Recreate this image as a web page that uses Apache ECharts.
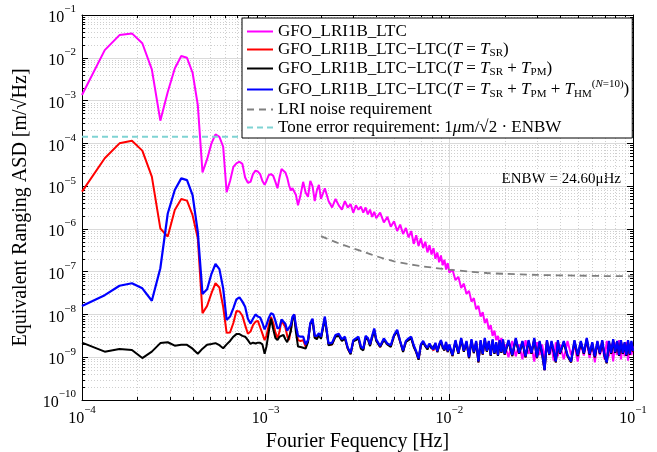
<!DOCTYPE html>
<html>
<head>
<meta charset="utf-8">
<script src="https://cdn.jsdelivr.net/npm/echarts@6/dist/echarts.min.js"></script>
<style>
  html, body { margin: 0; padding: 0; background: #fff; }
  #chart { width: 657px; height: 452px; }
</style>
</head>
<body>
<div id="chart"></div>
<script>
const FONT = '"Liberation Serif", "DejaVu Serif", serif';

// frequency grid in mHz (low part and high part)
const freqLowMHz = [0.1, 0.133, 0.16, 0.187, 0.213, 0.24, 0.267, 0.293, 0.32, 0.347,
  0.373, 0.4, 0.427, 0.453, 0.48, 0.507, 0.533, 0.56, 0.587, 0.613,
  0.64, 0.667, 0.693, 0.72, 0.747, 0.773, 0.8, 0.827, 0.853, 0.88,
  0.907, 0.933, 0.96, 0.987,
  1.01, 1.04, 1.07, 1.1, 1.13, 1.16, 1.19, 1.22, 1.25, 1.28, 1.31, 1.34, 1.37, 1.4, 1.43, 1.46, 1.5, 1.55];
const freqHighMHz = [1.6, 1.65, 1.7, 1.75, 1.8, 1.85, 1.9, 1.95,
  2.0, 2.1, 2.2, 2.3, 2.4, 2.5, 2.6, 2.7, 2.8, 2.9, 3.0, 3.1, 3.2, 3.3, 3.4, 3.5, 3.6, 3.7, 3.8, 3.9,
  4.0, 4.2, 4.4, 4.6, 4.8, 5.0, 5.2, 5.4, 5.6, 5.8, 6.0, 6.2, 6.4, 6.6, 6.8, 7.0, 7.2, 7.4, 7.6, 7.8,
  8.0, 8.2, 8.4, 8.6, 8.8, 9.0, 9.2, 9.4, 9.6, 9.8,
  10, 10.4, 10.8, 11.2, 11.6, 12, 12.4, 12.8, 13.2, 13.6, 14, 14.4, 14.8, 15.2, 15.6, 16, 16.4, 16.8,
  17.2, 17.6, 18, 18.4, 18.8, 19.2, 19.6,
  20, 21, 22, 23, 24, 25, 26, 27, 28, 29, 30, 31, 32, 33, 34, 35, 36, 37, 38, 39,
  40, 42, 44, 46, 48, 50, 52, 54, 56, 58, 60, 62, 64, 66, 68, 70, 72, 74, 76, 78, 80,
  82, 84, 86, 88, 90, 92, 94, 96, 98, 100];

// log10 of ASD [m/sqrt(Hz)]
const ltcLow = [-2.87, -1.82, -1.47, -1.43, -1.66, -2.27, -3.47, -2.8, -2.25, -1.96,
  -2.0, -2.35, -3.1, -4.68, -4.37, -4.0, -3.79, -3.85, -4.08, -5.14,
  -4.88, -4.55, -4.47, -4.43, -4.48, -4.8, -4.92, -4.9, -4.72, -4.64,
  -4.66, -4.72, -4.88, -4.97,
  -4.88, -4.74, -4.72, -4.76, -4.9, -5.05, -4.8, -4.6, -4.56, -4.68, -4.8, -4.98, -5.1, -5.05, -5.03, -5.2, -5.45, -5.2];
const ltcHigh = [-4.90, -5.15, -5.25, -4.88, -5.0, -5.35, -5.1, -4.97,
  -5.3, -5.05, -5.35, -5.5, -5.3, -5.45, -5.55, -5.35, -5.5, -5.42, -5.62, -5.45, -5.55, -5.48, -5.62, -5.5, -5.66, -5.55, -5.72, -5.6,
  -5.75, -5.62, -5.85, -5.72, -5.95, -5.82, -6.05, -5.9, -6.12, -5.98, -6.2, -6.05, -6.35, -6.15, -6.4, -6.22, -6.45, -6.3, -6.55, -6.38,
  -6.6, -6.45, -6.7, -6.55, -6.78, -6.62, -6.85, -6.72, -6.95, -6.8,
  -7.02, -6.95, -7.2, -7.12, -7.38, -7.28, -7.52, -7.45, -7.7, -7.62, -7.88, -7.8, -8.05, -7.95, -8.2, -8.1, -8.35, -8.25,
  -8.5, -8.38, -8.6, -8.5, -8.7, -8.55, -8.8,
  -8.7, -9.0, -8.62, -8.98, -8.7, -9.05, -8.6, -8.92, -8.75, -9.1, -8.65, -8.95, -8.7, -9.02, -8.6, -8.95, -8.72, -9.08, -8.65, -8.98,
  -8.7, -9.05, -8.62, -8.95, -8.72, -9.1, -8.66, -8.96, -8.6, -9.02, -8.7, -9.12, -8.64, -8.95, -8.72, -9.05, -8.62, -8.98, -8.7, -9.1, -8.66,
  -8.95, -8.6, -9.05, -8.7, -8.98, -8.64, -9.08, -8.7, -8.95, -8.75];

const srLow = [-5.13, -4.35, -4.0, -3.94, -4.17, -4.78, -5.99, -6.18, -5.56, -5.30,
  -5.34, -5.68, -6.22, -7.97, -7.80, -7.5, -7.27, -7.37, -7.82, -8.43,
  -8.42, -8.2, -7.92, -7.93, -8.03, -8.25, -8.45, -8.4, -8.25, -8.17,
  -8.15, -8.3, -8.45, -8.6,
  -8.5, -8.25, -8.06, -8.2, -8.42, -8.56, -8.4, -8.14, -8.12, -8.3, -8.5, -8.6, -8.35, -8.1, -8.0, -8.3, -8.6, -8.62];
const srHigh = [-8.6, -8.75, -8.62, -8.22, -8.12, -8.52, -8.55, -8.46,
  -8.55, -8.08, -8.7, -8.7, -8.5, -8.48, -8.6, -8.55, -8.8, -8.92, -8.62, -8.58, -8.55, -8.78, -8.82, -8.55, -8.56, -8.72, -8.52, -8.36,
  -8.6, -8.76, -8.58, -8.7, -8.74, -8.5, -8.38, -8.64, -8.86, -8.64, -8.58, -8.55, -8.74, -8.88, -9.05, -8.72, -8.64, -8.74, -8.8, -8.7,
  -8.78, -8.84, -8.68, -8.88, -8.72, -8.62, -8.76, -8.84, -8.66, -8.88,
  -8.72, -8.97, -8.62, -8.92, -8.57, -8.87, -8.64, -9.02, -8.6, -8.9, -8.64, -9.12, -8.62, -8.94, -8.57, -8.87, -8.64, -8.97,
  -8.6, -8.92, -8.67, -8.97, -8.62, -8.9, -8.6,
  -8.94, -8.62, -8.97, -8.57, -8.92, -8.64, -9.0, -8.62, -8.92, -8.57, -9.02, -8.64, -8.92, -9.3, -8.62, -8.94, -8.64, -8.87, -9.12, -8.62,
  -8.92, -8.64, -8.97, -9.12, -8.62, -8.97, -8.64, -8.92, -8.57, -8.94, -8.67, -9.0, -8.64, -8.92, -8.62, -8.97, -9.14, -8.64, -8.92, -8.6, -8.9,
  -8.64, -8.97, -8.62, -8.92, -8.67, -8.97, -8.62, -8.94, -8.64, -8.87];

const pmLow = [-8.66, -8.87, -8.81, -8.83, -9.02, -8.87, -8.67, -8.65, -8.73, -8.71,
  -8.71, -8.8, -8.92, -8.8, -8.71, -8.69, -8.67, -8.72, -8.79, -8.7,
  -8.62, -8.52, -8.46, -8.46, -8.5, -8.52, -8.6, -8.69, -8.66, -8.68,
  -8.66, -8.66, -8.7, -8.92,
  -8.75, -8.4, -8.1, -8.35, -8.55, -8.6, -8.52, -8.48, -8.48, -8.58, -8.65, -8.66, -8.4, -8.1, -8.02, -8.4, -8.75, -8.76];
const pmHigh = [-8.78, -8.8, -8.65, -8.22, -8.15, -8.55, -8.58, -8.48,
  -8.57, -8.1, -8.72, -8.7, -8.52, -8.5, -8.62, -8.56, -8.8, -8.93, -8.63, -8.6, -8.56, -8.8, -8.84, -8.56, -8.58, -8.74, -8.54, -8.38,
  -8.62, -8.76, -8.6, -8.7, -8.76, -8.5, -8.4, -8.64, -8.88, -8.64, -8.6, -8.55, -8.76, -8.88, -9.06, -8.72, -8.66, -8.74, -8.82, -8.7,
  -8.8, -8.84, -8.7, -8.88, -8.74, -8.62, -8.78, -8.84, -8.68, -8.88,
  -8.74, -8.97, -8.64, -8.92, -8.59, -8.87, -8.66, -9.02, -8.62, -8.9, -8.66, -9.12, -8.64, -8.94, -8.59, -8.87, -8.66, -8.97,
  -8.62, -8.92, -8.69, -8.97, -8.64, -8.9, -8.62,
  -8.94, -8.64, -8.97, -8.59, -8.92, -8.66, -9.0, -8.64, -8.92, -8.59, -9.02, -8.66, -8.92, -9.3, -8.64, -8.94, -8.66, -8.87, -9.12, -8.64,
  -8.92, -8.66, -8.97, -9.12, -8.64, -8.97, -8.66, -8.92, -8.59, -8.94, -8.69, -9.0, -8.66, -8.92, -8.64, -8.97, -9.14, -8.66, -8.92, -8.62, -8.9,
  -8.66, -8.97, -8.64, -8.92, -8.69, -8.97, -8.64, -8.94, -8.66, -8.87];

const hmLow = [-7.80, -7.55, -7.33, -7.27, -7.39, -7.68, -6.92, -5.64, -5.09, -4.82,
  -4.86, -5.21, -6.07, -7.52, -7.41, -7.05, -6.82, -6.94, -7.39, -8.13,
  -8.05, -7.85, -7.65, -7.60, -7.70, -7.82, -8.1, -8.21, -8.1, -8.0,
  -8.05, -8.07, -8.2, -8.35,
  -8.25, -8.08, -7.97, -8.0, -8.15, -8.33, -8.3, -8.12, -8.09, -8.22, -8.38, -8.4, -8.25, -8.05, -8.0, -8.25, -8.5, -8.52];
const hmHigh = [-8.52, -8.7, -8.6, -8.2, -8.1, -8.5, -8.5, -8.44,
  -8.52, -8.05, -8.68, -8.66, -8.48, -8.45, -8.58, -8.52, -8.78, -8.9, -8.6, -8.56, -8.52, -8.75, -8.8, -8.5, -8.55, -8.7, -8.5, -8.33,
  -8.58, -8.74, -8.56, -8.68, -8.72, -8.48, -8.36, -8.62, -8.84, -8.62, -8.56, -8.52, -8.72, -8.86, -9.03, -8.7, -8.62, -8.72, -8.78, -8.68,
  -8.76, -8.82, -8.66, -8.86, -8.7, -8.6, -8.74, -8.82, -8.64, -8.86,
  -8.7, -8.95, -8.6, -8.9, -8.55, -8.85, -8.62, -9.0, -8.58, -8.88, -8.62, -9.1, -8.6, -8.92, -8.55, -8.85, -8.62, -8.95,
  -8.58, -8.9, -8.65, -8.95, -8.6, -8.88, -8.58,
  -8.92, -8.6, -8.95, -8.55, -8.9, -8.62, -8.98, -8.6, -8.9, -8.55, -9.0, -8.62, -8.9, -9.3, -8.6, -8.92, -8.62, -8.85, -9.1, -8.6,
  -8.9, -8.62, -8.95, -9.1, -8.6, -8.95, -8.62, -8.9, -8.55, -8.92, -8.65, -8.98, -8.62, -8.9, -8.6, -8.95, -9.12, -8.62, -8.9, -8.58, -8.88,
  -8.62, -8.95, -8.6, -8.9, -8.65, -8.95, -8.6, -8.92, -8.62, -8.85];

// LRI noise requirement [Hz], [m/sqrt(Hz)]
const lriFreq = [2.0e-3, 2.25e-3, 2.5e-3, 3.0e-3, 3.5e-3, 4.0e-3, 5.0e-3, 6.0e-3, 7.0e-3, 8.0e-3,
  1.0e-2, 1.3e-2, 1.6e-2, 2.0e-2, 3.0e-2, 5.0e-2, 7.0e-2, 1.0e-1];
const lriAsd = [6.8e-7, 5.5e-7, 4.6e-7, 3.5e-7, 2.8e-7, 2.3e-7, 1.75e-7, 1.5e-7, 1.35e-7, 1.25e-7,
  1.12e-7, 1.0e-7, 9.3e-8, 8.9e-8, 8.4e-8, 8.1e-8, 7.9e-8, 7.8e-8];

// tone error requirement
const toneFreq = [1e-4, 1e-1];
const toneAsd = [1.426e-4, 1.426e-4];

// minor grid positions
const xDecades = [1e-4, 1e-3, 1e-2];
const yDecades = [1e-10, 1e-9, 1e-8, 1e-7, 1e-6, 1e-5, 1e-4, 1e-3, 1e-2];
const minorMult = [2, 3, 4, 5, 6, 7, 8, 9];

const names = [
  'GFO_LRI1B_LTC',
  'GFO_LRI1B_LTC−LTC(T = T_SR)',
  'GFO_LRI1B_LTC−LTC(T = T_SR + T_PM)',
  'GFO_LRI1B_LTC−LTC(T = T_SR + T_PM + T_HM)',
  'LRI noise requirement',
  'Tone error requirement'
];
const legendText = {};
legendText[names[0]] = '{t|GFO_LRI1B_LTC}';
legendText[names[1]] = '{t|GFO_LRI1B_LTC−LTC(}{i|T}{t| = }{i|T}{s|SR}{t|)}';
legendText[names[2]] = '{t|GFO_LRI1B_LTC−LTC(}{i|T}{t| = }{i|T}{s|SR}{t| + }{i|T}{s|PM}{t|)}';
legendText[names[3]] = '{tt|GFO_LRI1B_LTC−LTC(}{i|T}{t| = }{i|T}{s|SR}{t| + }{i|T}{s|PM}{t| + }{i|T}{s|HM}{u|(}{ui|N}{u|=10)}{t|)}';
legendText[names[4]] = '{t|LRI noise requirement}';
legendText[names[5]] = '{t|Tone error requirement: 1}{i|μ}{t|m/√2 · ENBW}';

function toPairs(fLow, fHigh, vLow, vHigh) {
  const f = fLow.concat(fHigh);
  const v = vLow.concat(vHigh);
  return f.map((x, i) => [x * 1e-3, Math.pow(10, v[i])]);
}

const minorGrid = [];
xDecades.forEach(d => minorMult.forEach(m => minorGrid.push([d * m, 1e-5, 0])));
yDecades.forEach(d => minorMult.forEach(m => minorGrid.push([1e-3, d * m, 1])));

function renderMinor(params, api) {
  const cs = params.coordSys;
  const dot = { stroke: '#cfcfcf', lineWidth: 1, lineDash: [1, 2] };
  const tk = { stroke: '#000', lineWidth: 1 };
  if (api.value(2) === 0) {
    const x = Math.round(api.coord([api.value(0), 1e-5])[0]) + 0.5;
    const b = cs.y + cs.height;
    return { type: 'group', children: [
      { type: 'line', shape: { x1: x, y1: cs.y, x2: x, y2: b }, style: dot },
      { type: 'line', shape: { x1: x, y1: b, x2: x, y2: b - 3 }, style: tk },
      { type: 'line', shape: { x1: x, y1: cs.y, x2: x, y2: cs.y + 3 }, style: tk }
    ] };
  }
  const y = Math.round(api.coord([1e-3, api.value(1)])[1]) + 0.5;
  const r = cs.x + cs.width;
  return { type: 'group', children: [
    { type: 'line', shape: { x1: cs.x, y1: y, x2: r, y2: y }, style: dot },
    { type: 'line', shape: { x1: cs.x, y1: y, x2: cs.x + 3, y2: y }, style: tk },
    { type: 'line', shape: { x1: r, y1: y, x2: r - 3, y2: y }, style: tk }
  ] };
}

function powLabel(v) {
  const e = Math.round(Math.log10(v));
  return '{b|10}{e|' + (e < 0 ? '−' + (-e) : e) + '}';
}
const powRich = {
  b: { fontFamily: FONT, fontSize: 16, color: '#000', lineHeight: 22, verticalAlign: 'bottom' },
  e: { fontFamily: FONT, fontSize: 11, color: '#000', lineHeight: 12, verticalAlign: 'top' }
};

const axisCommon = {
  type: 'log',
  logBase: 10,
  axisLine: { show: true, lineStyle: { color: '#000', width: 1 } },
  axisTick: { show: true, inside: true, length: 6, lineStyle: { color: '#000' } }
};

const chart = echarts.init(document.getElementById('chart'), null, { renderer: 'canvas' });
chart.setOption({
  animation: false,
  backgroundColor: '#fff',
  grid: { left: 82, right: 24, top: 15, bottom: 52, containLabel: false, outerBoundsMode: 'none' },
  xAxis: [
    Object.assign({}, axisCommon, {
      min: 1e-4, max: 1e-1, splitNumber: 3, position: 'bottom',
      name: 'Fourier Fequency [Hz]', nameLocation: 'middle', nameGap: 28,
      nameTextStyle: { fontFamily: FONT, fontSize: 20, color: '#000' },
      axisLabel: { formatter: powLabel, rich: powRich, margin: 5 },
      splitLine: { show: true, lineStyle: { color: '#dadada', width: 1 } }
    }),
    Object.assign({}, axisCommon, {
      min: 1e-4, max: 1e-1, splitNumber: 3, position: 'top',
      axisLabel: { show: false }, splitLine: { show: false }
    })
  ],
  yAxis: [
    Object.assign({}, axisCommon, {
      min: 1e-10, max: 1e-1, splitNumber: 9, position: 'left',
      name: 'Equivalent Ranging ASD [m/√Hz]', nameLocation: 'middle', nameGap: 51, nameRotate: 90,
      nameTextStyle: { fontFamily: FONT, fontSize: 20, color: '#000' },
      axisLabel: { formatter: powLabel, rich: powRich, margin: 6 },
      splitLine: { show: true, lineStyle: { color: '#dadada', width: 1 } }
    }),
    Object.assign({}, axisCommon, {
      min: 1e-10, max: 1e-1, splitNumber: 9, position: 'right',
      axisLabel: { show: false }, splitLine: { show: false }
    })
  ],
  legend: {
    data: names,
    orient: 'vertical',
    left: 242,
    top: 18,
    padding: [5, 3, 2, 4],
    itemGap: 1,
    itemWidth: 26,
    itemHeight: 14,
    backgroundColor: '#fff',
    borderColor: '#000',
    borderWidth: 1,
    selectedMode: false,
    itemStyle: { opacity: 0 },
    formatter: name => legendText[name],
    textStyle: {
      rich: {
        t: { fontFamily: FONT, fontSize: 17, color: '#000', lineHeight: 19 },
        tt: { fontFamily: FONT, fontSize: 17, color: '#000', lineHeight: 21 },
        i: { fontFamily: FONT, fontSize: 17, fontStyle: 'italic', color: '#000', lineHeight: 19 },
        s: { fontFamily: FONT, fontSize: 11, color: '#000', lineHeight: 11, verticalAlign: 'bottom' },
        u: { fontFamily: FONT, fontSize: 11, color: '#000', lineHeight: 11, verticalAlign: 'top' },
        ui: { fontFamily: FONT, fontSize: 11, fontStyle: 'italic', color: '#000', lineHeight: 11, verticalAlign: 'top' }
      }
    }
  },
  graphic: [{
    type: 'text', right: 36, top: 172,
    style: { text: 'ENBW = 24.60μHz', font: '15px ' + FONT, fill: '#000' }
  }],
  series: [
    {
      type: 'custom', name: 'minor', silent: true, z: 1,
      renderItem: renderMinor, data: minorGrid, encode: { x: 0, y: 1 }
    },
    {
      name: names[0], type: 'line', symbol: 'none', z: 2,
      lineStyle: { color: '#ff00ff', width: 2 }, itemStyle: { color: '#ff00ff' },
      data: toPairs(freqLowMHz, freqHighMHz, ltcLow, ltcHigh)
    },
    {
      name: names[1], type: 'line', symbol: 'none', z: 2,
      lineStyle: { color: '#ff0000', width: 2 }, itemStyle: { color: '#ff0000' },
      data: toPairs(freqLowMHz, freqHighMHz, srLow, srHigh)
    },
    {
      name: names[2], type: 'line', symbol: 'none', z: 2,
      lineStyle: { color: '#000000', width: 2 }, itemStyle: { color: '#000000' },
      data: toPairs(freqLowMHz, freqHighMHz, pmLow, pmHigh)
    },
    {
      name: names[3], type: 'line', symbol: 'none', z: 2,
      lineStyle: { color: '#0000ff', width: 2.2 }, itemStyle: { color: '#0000ff' },
      data: toPairs(freqLowMHz, freqHighMHz, hmLow, hmHigh)
    },
    {
      name: names[4], type: 'line', symbol: 'none', z: 2, smooth: 0.3,
      lineStyle: { color: '#808080', width: 1.8, type: [7, 5] }, itemStyle: { color: '#808080' },
      data: lriFreq.map((f, i) => [f, lriAsd[i]])
    },
    {
      name: names[5], type: 'line', symbol: 'none', z: 2,
      lineStyle: { color: '#7fd3d3', width: 1.8, type: [6, 4] }, itemStyle: { color: '#7fd3d3' },
      data: toneFreq.map((f, i) => [f, toneAsd[i]])
    }
  ]
});
</script>
</body>
</html>
